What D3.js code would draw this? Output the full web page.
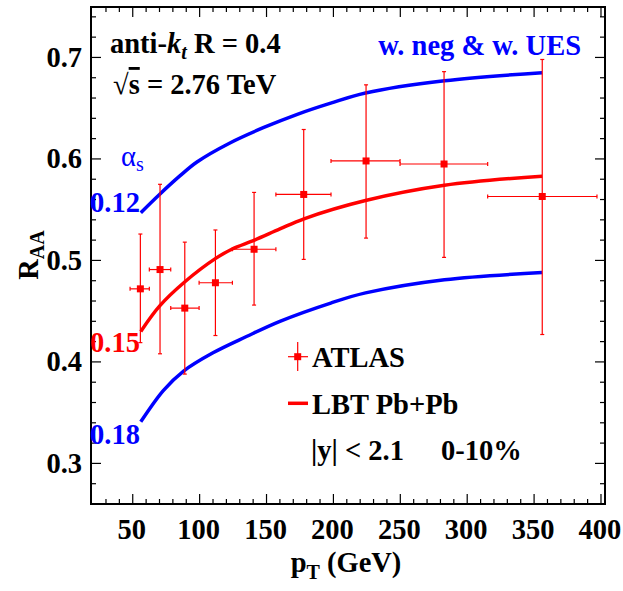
<!DOCTYPE html>
<html><head><meta charset="utf-8">
<script src="https://cdn.jsdelivr.net/npm/d3@7/dist/d3.min.js"></script>
<style>
html,body{margin:0;padding:0;background:#fff;}
</style></head>
<body><svg id="c" width="623" height="591"></svg>
<script>
// ATLAS data
const atlasPt  = [55.7, 70.4, 88.9, 111.8, 140.7, 177.8, 224.4, 282.7, 356.1];
const atlasRaa = [0.472, 0.491, 0.453, 0.478, 0.511, 0.565, 0.598, 0.595, 0.563];
const atlasYHi = [0.526, 0.575, 0.518, 0.530, 0.567, 0.629, 0.673, 0.686, 0.698];
const atlasYLo = [0.419, 0.408, 0.388, 0.426, 0.456, 0.501, 0.522, 0.503, 0.427];
const atlasXLo = [48.0, 62.4, 78.4, 99.6, 124.5, 157.0, 198.2, 249.8, 315.3];
const atlasXHi = [62.4, 78.4, 99.6, 124.5, 157.0, 198.2, 249.8, 315.3, 397.0];
// LBT curves
const upperPt  = [56, 70, 85, 98, 123, 148, 173, 198, 224, 283, 356];
const upperRaa = [0.547, 0.565, 0.583, 0.597, 0.616, 0.631, 0.644, 0.655, 0.665, 0.677, 0.685];
const midPt    = [56, 70, 89, 112, 124, 141, 160, 178, 224, 283, 356];
const midRaa   = [0.430, 0.455, 0.479, 0.502, 0.511, 0.520, 0.531, 0.541, 0.559, 0.574, 0.583];
const lowerPt  = [56, 73, 88, 110, 135, 160, 198, 224, 283, 356];
const lowerRaa = [0.341, 0.372, 0.391, 0.409, 0.425, 0.440, 0.458, 0.468, 0.481, 0.488];
// ticks
const xTicks = [50, 100, 150, 200, 250, 300, 350, 400];
const yTicks = [0.3, 0.4, 0.5, 0.6, 0.7];

const L = 91, R = 605, T = 7, B = 504;
const x = d3.scaleLinear().domain([18.8, 403]).range([L, R]);
const y = d3.scaleLinear().domain([0.26, 0.7497]).range([B, T]);
const svg = d3.select("#c");
const FS = "28.5px", SUB = "20px";
const txt = (sel) => sel.append("text").style("font-family", "Liberation Serif").style("font-weight", "bold").style("font-size", FS);

// frame
svg.append("rect").attr("x", L).attr("y", T).attr("width", R - L).attr("height", B - T)
  .attr("fill", "none").attr("stroke", "#000").attr("stroke-width", 2);

// ticks
const xMinor = d3.range(30, 401, 10);
const yMinor = d3.range(0.26, 0.75, 0.02).map(v => +v.toFixed(2));
const tk = svg.append("g").attr("stroke", "#000").attr("stroke-width", 1.2);
xMinor.forEach(v => {
  const major = xTicks.includes(v); const len = major ? 10 : 5;
  tk.append("line").attr("x1", x(v)).attr("x2", x(v)).attr("y1", B).attr("y2", B - len);
  tk.append("line").attr("x1", x(v)).attr("x2", x(v)).attr("y1", T).attr("y2", T + len);
});
yMinor.forEach(v => {
  const major = yTicks.some(t => Math.abs(t - v) < 1e-6); const len = major ? 10 : 5;
  tk.append("line").attr("y1", y(v)).attr("y2", y(v)).attr("x1", L).attr("x2", L + len);
  tk.append("line").attr("y1", y(v)).attr("y2", y(v)).attr("x1", R).attr("x2", R - len);
});
// tick labels
xTicks.forEach(v => txt(svg).attr("x", x(v) - 1).attr("y", 538.5).attr("text-anchor", "middle").text(v));
yTicks.forEach(v => txt(svg).attr("x", 82).attr("y", y(v) + 9.5).attr("text-anchor", "end").text(v.toFixed(1)));

// axis titles
const xt = txt(svg).attr("x", 346).attr("y", 572).attr("text-anchor", "middle");
xt.append("tspan").text("p");
xt.append("tspan").style("font-size", SUB).attr("dy", 7).text("T");
xt.append("tspan").attr("dy", -7).text(" (GeV)");
const yt = txt(svg).attr("transform", "translate(38,255) rotate(-90)").attr("text-anchor", "middle");
yt.append("tspan").text("R");
yt.append("tspan").style("font-size", SUB).attr("dy", 6).text("AA");

// curves
const line = d3.line().x(d => x(d[0])).y(d => y(d[1])).curve(d3.curveCatmullRom.alpha(0.5));
[[upperPt, upperRaa, "#0000ff"], [lowerPt, lowerRaa, "#0000ff"], [midPt, midRaa, "#ff0000"]].forEach(([p, r, c]) => {
  svg.append("path").datum(p.map((v, i) => [v, r[i]])).attr("d", line)
    .attr("fill", "none").attr("stroke", c).attr("stroke-width", 3.5);
});

// ATLAS points
const eg = svg.append("g").attr("stroke", "#ff0000").attr("stroke-width", 1.2);
atlasPt.forEach((p, i) => {
  const cx = x(p), cy = y(atlasRaa[i]);
  eg.append("line").attr("x1", cx).attr("x2", cx).attr("y1", y(atlasYHi[i])).attr("y2", y(atlasYLo[i]));
  eg.append("line").attr("x1", x(atlasXLo[i])).attr("x2", x(atlasXHi[i])).attr("y1", cy).attr("y2", cy);
  [atlasYHi[i], atlasYLo[i]].forEach(v => eg.append("line").attr("x1", cx - 2).attr("x2", cx + 2).attr("y1", y(v)).attr("y2", y(v)));
  [atlasXLo[i], atlasXHi[i]].forEach(v => eg.append("line").attr("x1", x(v)).attr("x2", x(v)).attr("y1", cy - 2).attr("y2", cy + 2));
  svg.append("rect").attr("x", cx - 3.5).attr("y", cy - 3.5).attr("width", 7).attr("height", 7).attr("fill", "#ff0000");
});

// legend
const lg = svg.append("g");
lg.append("line").attr("x1", 297.7).attr("x2", 297.7).attr("y1", 342).attr("y2", 371).attr("stroke", "#ff0000").attr("stroke-width", 1.2);
lg.append("line").attr("x1", 288).attr("x2", 308).attr("y1", 356.7).attr("y2", 356.7).attr("stroke", "#ff0000").attr("stroke-width", 1.2);
lg.append("rect").attr("x", 294.2).attr("y", 353.2).attr("width", 7).attr("height", 7).attr("fill", "#ff0000");
lg.append("line").attr("x1", 288).attr("x2", 308).attr("y1", 403.3).attr("y2", 403.3).attr("stroke", "#ff0000").attr("stroke-width", 3.5);
txt(lg).attr("x", 312).attr("y", 367).text("ATLAS");
txt(lg).attr("x", 312).attr("y", 413.5).text("LBT Pb+Pb");
txt(lg).attr("x", 311).attr("y", 460).text("|y| < 2.1");
txt(lg).attr("x", 441).attr("y", 460).text("0-10%");

// annotations
const t1 = txt(svg).attr("x", 110).attr("y", 53);
t1.append("tspan").text("anti-");
t1.append("tspan").style("font-style", "italic").text("k");
t1.append("tspan").style("font-style", "italic").style("font-size", SUB).attr("dy", 6).text("t");
t1.append("tspan").attr("dy", -6).text(" R = 0.4");
const t2 = txt(svg).attr("x", 113).attr("y", 94);
t2.append("tspan").style("font-weight", "normal").text("√");
t2.append("tspan").style("text-decoration", "overline").text("s");
t2.append("tspan").text(" = 2.76 TeV");
txt(svg).attr("x", 581).attr("y", 55).attr("text-anchor", "end").attr("fill", "#0000ff").text("w. neg & w. UES");
const as = txt(svg).attr("x", 121).attr("y", 166).attr("fill", "#0000ff").style("font-weight", "normal");
as.append("tspan").text("α");
as.append("tspan").style("font-size", SUB).attr("dy", 5).text("s");
txt(svg).attr("x", 90).attr("y", 212).attr("fill", "#0000ff").text("0.12");
txt(svg).attr("x", 90).attr("y", 352).attr("fill", "#ff0000").text("0.15");
txt(svg).attr("x", 90).attr("y", 444).attr("fill", "#0000ff").text("0.18");
</script></body></html>
